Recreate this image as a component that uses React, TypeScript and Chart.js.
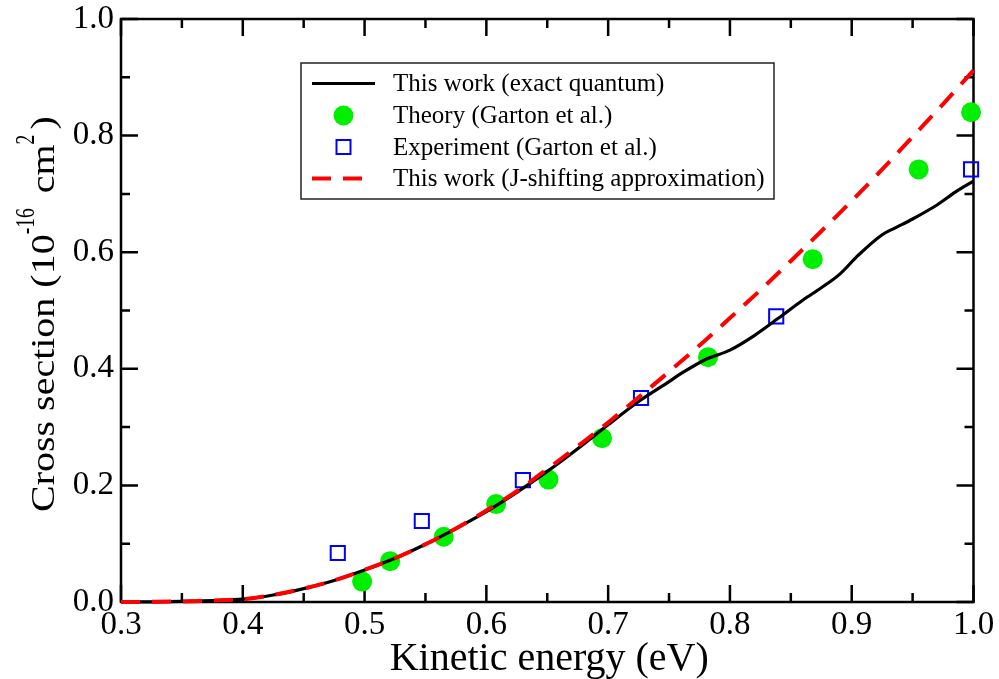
import React, { useEffect, useRef } from "react";
import { Chart, registerables } from "chart.js";

Chart.register(...registerables);

// ---------- data ----------
const exactX = [0.3, 0.325, 0.35, 0.375, 0.4, 0.425, 0.45, 0.475, 0.5, 0.525, 0.55, 0.575, 0.6, 0.625, 0.65, 0.675, 0.7, 0.725, 0.75, 0.76, 0.78, 0.8, 0.82, 0.84, 0.86, 0.875, 0.89, 0.905, 0.925, 0.935, 0.95, 0.97, 0.985, 1.0];
const exactY = [0.0, 0.0003, 0.001, 0.0025, 0.0048, 0.012, 0.023, 0.037, 0.055, 0.075, 0.099, 0.126, 0.155, 0.188, 0.224, 0.263, 0.304, 0.344, 0.378, 0.392, 0.416, 0.432, 0.457, 0.487, 0.518, 0.539, 0.562, 0.594, 0.63, 0.641, 0.657, 0.681, 0.703, 0.722];

const jshiftX = [0.3, 0.325, 0.35, 0.375, 0.4, 0.425, 0.45, 0.475, 0.5, 0.525, 0.55, 0.575, 0.6, 0.625, 0.65, 0.675, 0.7, 0.725, 0.75, 0.775, 0.8, 0.825, 0.85, 0.875, 0.9, 0.925, 0.95, 0.975, 1.0];
const jshiftY = [0.0, 0.0003, 0.001, 0.0025, 0.0048, 0.012, 0.023, 0.037, 0.055, 0.075, 0.099, 0.126, 0.157, 0.19, 0.228, 0.267, 0.308, 0.351, 0.395, 0.44, 0.487, 0.535, 0.585, 0.636, 0.688, 0.742, 0.798, 0.854, 0.912];

const theoryX = [0.498, 0.521, 0.565, 0.608, 0.651, 0.695, 0.782, 0.868, 0.955, 0.998];
const theoryY = [0.035, 0.07, 0.112, 0.168, 0.21, 0.281, 0.42, 0.588, 0.742, 0.84];

const exptX = [0.478, 0.547, 0.63, 0.727, 0.838, 0.998];
const exptY = [0.084, 0.139, 0.209, 0.35, 0.49, 0.742];

const xTicks = [0.3, 0.4, 0.5, 0.6, 0.7, 0.8, 0.9, 1.0];
const yTicks = [0.0, 0.2, 0.4, 0.6, 0.8, 1.0];

const legendLabels = [
  "This work (exact quantum)",
  "Theory (Garton et al.)",
  "Experiment (Garton et al.)",
  "This work (J-shifting approximation)",
];
const xTitle = "Kinetic energy (eV)";
const yTitleParts = [
  { text: "Cross section (10", sup: false },
  { text: "-16", sup: true },
  { text: " cm", sup: false },
  { text: "2", sup: true },
  { text: ")", sup: false },
];

// ---------- styles ----------
const SERIF = "'Liberation Serif', 'Times New Roman', serif";
const GREEN = "rgb(0,238,0)";
const BLUE = "#0000ff";
const RED = "#ff0000";
const DASH = [19, 12];

const zip = (xs: number[], ys: number[]) => xs.map((x, i) => ({ x, y: ys[i] }));

const framePlugin = {
  id: "frame",
  beforeDatasetsDraw(chart: any) {
    const { ctx, chartArea: a, scales } = chart;
    const xs = scales.x;
    const ys = scales.y;
    ctx.save();
    ctx.strokeStyle = "#000";
    ctx.lineWidth = 2.5;
    ctx.strokeRect(a.left, a.top, a.right - a.left, a.bottom - a.top);
    ctx.beginPath();
    const major = 17;
    const minor = 9;
    xTicks.forEach((v, i) => {
      const p = xs.getPixelForValue(v);
      ctx.moveTo(p, a.bottom); ctx.lineTo(p, a.bottom - major);
      ctx.moveTo(p, a.top); ctx.lineTo(p, a.top + major);
      if (i < xTicks.length - 1) {
        const m = xs.getPixelForValue((v + xTicks[i + 1]) / 2);
        ctx.moveTo(m, a.bottom); ctx.lineTo(m, a.bottom - minor);
        ctx.moveTo(m, a.top); ctx.lineTo(m, a.top + minor);
      }
    });
    yTicks.forEach((v, i) => {
      const p = ys.getPixelForValue(v);
      ctx.moveTo(a.left, p); ctx.lineTo(a.left + major, p);
      ctx.moveTo(a.right, p); ctx.lineTo(a.right - major, p);
      if (i < yTicks.length - 1) {
        const m = ys.getPixelForValue((v + yTicks[i + 1]) / 2);
        ctx.moveTo(a.left, m); ctx.lineTo(a.left + minor, m);
        ctx.moveTo(a.right, m); ctx.lineTo(a.right - minor, m);
      }
    });
    ctx.stroke();
    ctx.restore();
  },
  afterDraw(chart: any) {
    const { ctx, chartArea: a } = chart;
    ctx.save();
    // x title
    ctx.fillStyle = "#000";
    ctx.font = `40px ${SERIF}`;
    ctx.textAlign = "center";
    ctx.textBaseline = "alphabetic";
    ctx.fillText(xTitle, (a.left + a.right) / 2 + 2, 670);

    // y title (rotated, with superscripts)
    ctx.save();
    ctx.translate(53.5, 512);
    ctx.rotate(-Math.PI / 2);
    ctx.textAlign = "left";
    let pos = 0;
    for (const part of yTitleParts) {
      const sx = part.sup ? 0.7 : 1.176;
      ctx.font = part.sup ? `28px ${SERIF}` : `34px ${SERIF}`;
      const w = ctx.measureText(part.text).width * sx;
      ctx.save();
      ctx.translate(pos, part.sup ? -20 : 0);
      ctx.scale(sx, 1);
      ctx.fillText(part.text, 0, 0);
      ctx.restore();
      pos += w + (part.sup ? 5 : 0);
    }
    ctx.restore();

    // legend
    const bx = 301, by = 63, bw = 473, bh = 136;
    ctx.fillStyle = "#fff";
    ctx.fillRect(bx, by, bw, bh);
    ctx.strokeStyle = "#222";
    ctx.lineWidth = 1.5;
    ctx.strokeRect(bx, by, bw, bh);
    const rowY = [83.5, 115.5, 147, 178.5];
    const symX = 343.5;
    // row 0: black line
    ctx.strokeStyle = "#000";
    ctx.lineWidth = 3;
    ctx.beginPath(); ctx.moveTo(312, rowY[0]); ctx.lineTo(375, rowY[0]); ctx.stroke();
    // row 1: green circle
    ctx.fillStyle = GREEN;
    ctx.beginPath(); ctx.arc(symX, rowY[1], 10, 0, Math.PI * 2); ctx.fill();
    // row 2: blue square
    ctx.strokeStyle = BLUE;
    ctx.lineWidth = 2;
    ctx.strokeRect(symX - 7, rowY[2] - 7, 14, 14);
    // row 3: red dashed
    ctx.strokeStyle = RED;
    ctx.lineWidth = 4;
    ctx.setLineDash(DASH);
    ctx.beginPath(); ctx.moveTo(312, rowY[3]); ctx.lineTo(366, rowY[3]); ctx.stroke();
    ctx.setLineDash([]);
    // texts
    ctx.fillStyle = "#000";
    ctx.font = `25px ${SERIF}`;
    ctx.textAlign = "left";
    ctx.textBaseline = "alphabetic";
    legendLabels.forEach((t, i) => ctx.fillText(t, 393, rowY[i] + 7.5));
    ctx.restore();
  },
};

export default function App() {
  const ref = useRef<HTMLCanvasElement | null>(null);
  useEffect(() => {
    if (!ref.current) return;
    const chart = new Chart(ref.current, {
      type: "scatter",
      data: {
        datasets: [
          {
            label: legendLabels[3],
            data: zip(jshiftX, jshiftY),
            showLine: true,
            borderColor: RED,
            borderWidth: 4,
            borderDash: DASH,
            pointRadius: 0,
            cubicInterpolationMode: "monotone",
            clip: false,
            order: 0,
          } as any,
          {
            label: legendLabels[0],
            data: zip(exactX, exactY),
            showLine: true,
            borderColor: "#000",
            borderWidth: 3.2,
            pointRadius: 0,
            cubicInterpolationMode: "monotone",
            clip: false,
            order: 1,
          } as any,
          {
            label: legendLabels[2],
            data: zip(exptX, exptY),
            pointStyle: "rect",
            pointRadius: 10,
            pointBorderWidth: 2,
            pointBorderColor: BLUE,
            pointBackgroundColor: "rgba(0,0,0,0)",
            borderColor: BLUE,
            backgroundColor: "rgba(0,0,0,0)",
            clip: false,
            order: 2,
          } as any,
          {
            label: legendLabels[1],
            data: zip(theoryX, theoryY),
            pointStyle: "circle",
            pointRadius: 10,
            pointBorderWidth: 0,
            pointBackgroundColor: GREEN,
            backgroundColor: GREEN,
            borderColor: GREEN,
            clip: false,
            order: 3,
          } as any,
        ],
      },
      options: {
        responsive: false,
        animation: false,
        events: [],
        layout: { padding: { left: 0, top: 19, right: 25.5, bottom: 0 } },
        plugins: { legend: { display: false }, tooltip: { enabled: false }, title: { display: false } },
        scales: {
          x: {
            type: "linear",
            min: 0.3,
            max: 1.0,
            afterFit: (s: any) => { s.height = 77; s.paddingLeft = 0; s.paddingRight = 0; s.paddingTop = 0; s.paddingBottom = 0; },
            afterBuildTicks: (s: any) => { s.ticks = xTicks.map((v) => ({ value: v })); },
            grid: { display: false, drawTicks: false },
            border: { display: false },
            ticks: {
              autoSkip: false,
              maxRotation: 0,
              padding: 4,
              color: "#000",
              font: { family: SERIF, size: 33 },
              callback: (v: any) => Number(v).toFixed(1),
            },
          },
          y: {
            type: "linear",
            min: 0,
            max: 1.0,
            afterFit: (s: any) => { s.width = 121; s.paddingLeft = 0; s.paddingRight = 0; s.paddingTop = 0; s.paddingBottom = 0; },
            afterBuildTicks: (s: any) => { s.ticks = yTicks.map((v) => ({ value: v })); },
            grid: { display: false, drawTicks: false },
            border: { display: false },
            ticks: {
              autoSkip: false,
              padding: 7,
              color: "#000",
              font: { family: SERIF, size: 33 },
              callback: (v: any) => Number(v).toFixed(1),
            },
          },
        },
      } as any,
      plugins: [framePlugin],
    });
    return () => chart.destroy();
  }, []);
  return (
    <div style={{ position: "absolute", left: 0, top: 0, width: 999, height: 679, background: "#fff" }}>
      <canvas ref={ref} width={999} height={679} style={{ display: "block" }} />
    </div>
  );
}
